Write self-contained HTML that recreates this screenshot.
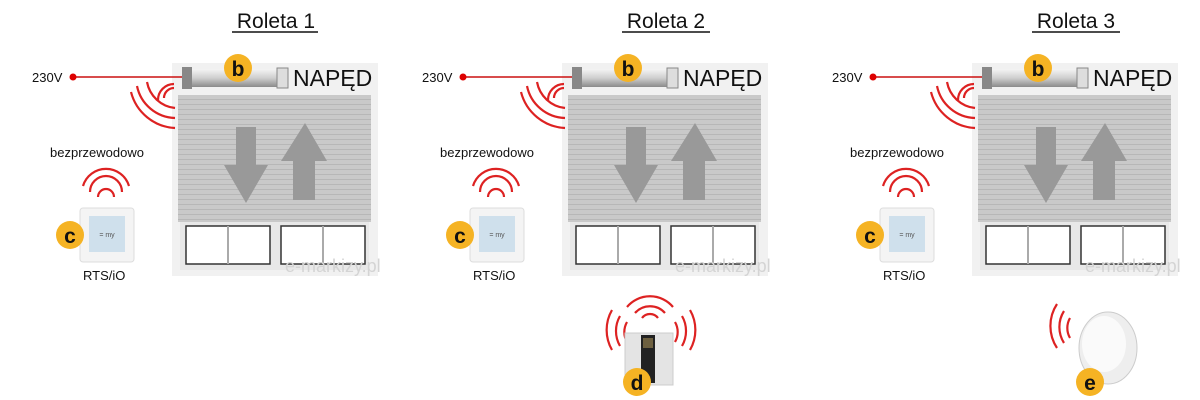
<!DOCTYPE html>
<html><head><meta charset="utf-8"><style>
html,body{margin:0;padding:0;background:#fff;width:1200px;height:400px;overflow:hidden}
svg{display:block}
text{font-family:"Liberation Sans",sans-serif}
</style></head><body>
<svg width="1200" height="400" viewBox="0 0 1200 400" xmlns="http://www.w3.org/2000/svg">
<defs>
<pattern id="sl" width="6" height="5" patternUnits="userSpaceOnUse"><rect width="6" height="5" fill="#c9c9c9"/><rect y="4" width="6" height="1" fill="#b7b7b7"/></pattern>
<linearGradient id="tube" x1="0" y1="0" x2="0" y2="1"><stop offset="0" stop-color="#f4f4f4"/><stop offset=".5" stop-color="#cfcfcf"/><stop offset="1" stop-color="#8a8a8a"/></linearGradient>
<g id="panel">
 <text x="276" y="28" font-size="21" text-anchor="middle" fill="#111">ROLETA</text>
 <rect x="172" y="63" width="206" height="213" fill="#f1f1f1"/>
 <rect x="178" y="95" width="193" height="127" fill="url(#sl)"/>
 <path d="M236 127h20v38h12l-22 38l-22-38h12z" fill="#999"/>
 <path d="M305 123l22 38h-12v39h-22v-39h-12z" fill="#999"/>
 <rect x="180" y="222" width="189" height="48" fill="#e8e8e8"/>
 <rect x="186" y="226" width="84" height="38" fill="#fff" stroke="#333" stroke-width="1.5"/>
 <line x1="228" y1="226" x2="228" y2="264" stroke="#aaa" stroke-width="2"/>
 <rect x="281" y="226" width="84" height="38" fill="#fff" stroke="#333" stroke-width="1.5"/>
 <line x1="323" y1="226" x2="323" y2="264" stroke="#aaa" stroke-width="2"/>
 <text x="285" y="272" font-size="18" fill="#d4d4d4">e-markizy.pl</text>
 <rect x="182" y="69" width="106" height="18" rx="3" fill="url(#tube)"/>
 <rect x="182" y="67" width="10" height="22" fill="#888"/>
 <rect x="277" y="68" width="11" height="20" fill="#ddd" stroke="#888"/>
 <text x="293" y="86" font-size="23" fill="#111">NAPĘD</text>
 <circle cx="238" cy="68" r="14" fill="#f5b324"/>
 <text x="238" y="76" font-size="21" font-weight="bold" text-anchor="middle" fill="#111">b</text>
 <text x="32" y="82" font-size="13" fill="#111">230V</text>
 <line x1="72" y1="77" x2="182" y2="77" stroke="#c11" stroke-width="1.5"/>
 <circle cx="73" cy="77" r="3.5" fill="#d00"/>
 <g fill="none" stroke="#d22" stroke-width="2.2">
  <path d="M174 88a10 10 0 0 0-10 10"/><path d="M174 84a16 16 0 0 0-16 16"/>
  <path d="M175 108a32 32 0 0 1-28-26"/><path d="M175 118a40 40 0 0 1-38-32"/><path d="M175 128a48 48 0 0 1-44-36"/>
 </g>
 <text x="50" y="157" font-size="13" fill="#111">bezprzewodowo</text>
 <g fill="none" stroke="#d22" stroke-width="2.2">
  <path d="M83 186a24 24 0 0 1 46 0"/><path d="M90 192a16 16 0 0 1 32 0"/><path d="M98 197a8 8 0 0 1 16 0"/>
 </g>
 <rect x="80" y="208" width="54" height="54" rx="3" fill="#f4f4f4" stroke="#ddd"/>
 <rect x="89" y="216" width="36" height="36" fill="#cfe0ec"/>
 <text x="107" y="237" font-size="7" text-anchor="middle" fill="#555">= my</text>
 <circle cx="70" cy="235" r="14" fill="#f5b324"/>
 <text x="70" y="243" font-size="21" font-weight="bold" text-anchor="middle" fill="#111">c</text>
 <text x="83" y="280" font-size="13" fill="#111">RTS/iO</text>
</g>
</defs>
<g><use href="#panel"/><rect x="225" y="5" width="105" height="30" fill="#fff"/><text x="276" y="28" font-size="21" text-anchor="middle" fill="#111">Roleta 1</text><line x1="232" y1="32" x2="318" y2="32" stroke="#111" stroke-width="1.5"/></g>
<g transform="translate(390,0)"><use href="#panel"/><rect x="225" y="5" width="105" height="30" fill="#fff"/><text x="276" y="28" font-size="21" text-anchor="middle" fill="#111">Roleta 2</text><line x1="232" y1="32" x2="320" y2="32" stroke="#111" stroke-width="1.5"/></g>
<g transform="translate(800,0)"><use href="#panel"/><rect x="225" y="5" width="105" height="30" fill="#fff"/><text x="276" y="28" font-size="21" text-anchor="middle" fill="#111">Roleta 3</text><line x1="232" y1="32" x2="320" y2="32" stroke="#111" stroke-width="1.5"/></g>
<!-- d -->
<g fill="none" stroke="#d22" stroke-width="2.2">
 <path d="M627 307a30 30 0 0 1 46 0"/><path d="M635 313a20 20 0 0 1 30 0"/><path d="M642 318a10 10 0 0 1 16 0"/>
 <path d="M612 310a40 40 0 0 0 0 40"/><path d="M620 316a30 30 0 0 0 0 30"/><path d="M627 322a20 20 0 0 0 0 20"/>
 <path d="M690 310a40 40 0 0 1 0 40"/><path d="M682 316a30 30 0 0 1 0 30"/><path d="M675 322a20 20 0 0 1 0 20"/>
</g>
<rect x="625" y="333" width="48" height="52" fill="#e4e4e4" stroke="#ccc"/>
<rect x="641" y="335" width="14" height="48" fill="#222"/>
<rect x="643" y="338" width="10" height="10" fill="#6d6040"/>
<circle cx="637" cy="382" r="14" fill="#f5b324"/>
<text x="637" y="390" font-size="21" font-weight="bold" text-anchor="middle" fill="#111">d</text>
<!-- e -->
<g fill="none" stroke="#d22" stroke-width="2.2">
 <path d="M1057 304a40 40 0 0 0 0 44"/><path d="M1064 311a30 30 0 0 0 0 32"/><path d="M1070 318a20 20 0 0 0 0 20"/>
</g>
<ellipse cx="1108" cy="348" rx="29" ry="36" fill="#eee" stroke="#ccc"/>
<ellipse cx="1104" cy="344" rx="22" ry="28" fill="#fafafa"/>
<circle cx="1090" cy="382" r="14" fill="#f5b324"/>
<text x="1090" y="390" font-size="21" font-weight="bold" text-anchor="middle" fill="#111">e</text>
</svg>
</body></html>
